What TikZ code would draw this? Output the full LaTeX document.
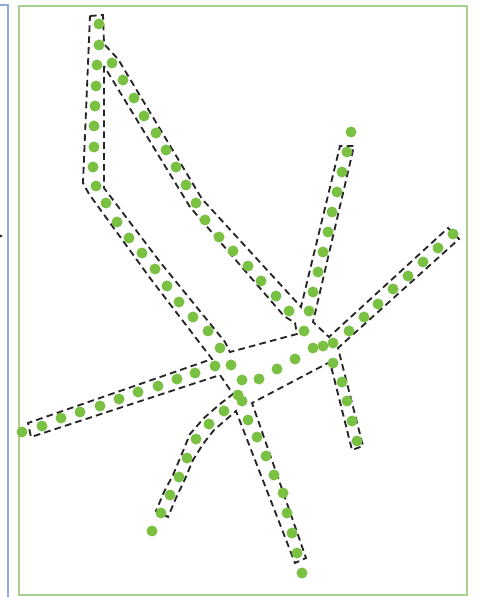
\documentclass[tikz,border=0pt]{standalone}
\usetikzlibrary{arrows.meta}
\definecolor{trackgreen}{HTML}{7AC143}
\definecolor{framegreen}{HTML}{A9D18E}
\definecolor{frameblue}{HTML}{8FAADC}

\begin{document}
\begin{tikzpicture}[x=0.02cm, y=-0.02cm,
        pt/.style={fill=trackgreen, draw=none},
        buf/.style={draw=black!85, line width=1.05pt, dash pattern=on 3.8pt off 2.4pt, line join=miter},
        frame/.style={draw=framegreen, line width=1.1pt}]
      \useasboundingbox (0,0) rectangle (479,597);
      % panel edges
      \draw[frameblue, line width=0.9pt] (0,5) -- (8,5) -- (8,600);
      \draw[frame] (19,6) rectangle (467,595);
      \draw[-{Stealth[length=4pt, width=4pt]}, black!80, line width=0.6pt] (-12,236) -- (3,236);
      % buffer outline
      \draw[buf] (90,16) -- (103,15) -- (104,44) -- (118,59) -- (202,199) -- (301,307) -- (340,146) -- (354,146)
        -- (313,322) -- (329,337) -- (448,228) -- (459,239) -- (338,348) -- (363,446) -- (352,450)
        -- (330,362) -- (252,403) -- (306,558) -- (295,563) -- (236,411) -- (214,430) -- (203,444)
        -- (193,460) -- (185,479) -- (176,498) -- (168,517) -- (156,511) -- (164,492) -- (173,475)
        -- (181,456) -- (190,434) -- (204,418) -- (220,404) -- (233,394) -- (220,375) -- (31,437)
        -- (28,423) -- (212,359) -- (150,278) -- (89,194) -- (83,183) -- cycle;
      \draw[buf] (104,66) -- (104,188) -- (160,262) -- (225,342) -- (230,352) -- (297,334) -- (295,323)
        -- (284,316) -- (190,207) -- cycle;
      % track points
      \foreach \p in {(99,24),(99,45),(97,65),(96,86),(95,106),(94,126),(94,147),(93,167),(96,186),
          (106,203),(117,222),(129,238),(142,253),(155,269),(167,286),(179,302),(193,317),(208,331),(220,348)}
        \fill[pt] \p circle[radius=5.5];
      \foreach \p in {(112,63),(123,80),(134,98),(144,116),(156,133),(166,150),(176,167),(186,185),
          (196,203),(205,220),(219,237),(233,251),(248,266),(261,281),(276,296),(289,311)}
        \fill[pt] \p circle[radius=5.5];
      \foreach \p in {(351,132),(347,152),(342,172),(337,192),(332,212),(328,232),(323,252),(318,272),
          (313,292),(309,311),(304,331)}
        \fill[pt] \p circle[radius=5.5];
      \foreach \p in {(453,234),(438,248),(423,262),(408,276),(393,289),(378,304),(364,317),(349,331),
          (333,343),(323,346),(313,348),(295,359),(277,369),(259,379),(242,380),(231,365)}
        \fill[pt] \p circle[radius=5.5];
      \foreach \p in {(333,363),(342,382),(347,401),(352,421),(357,441)}
        \fill[pt] \p circle[radius=5.5];
      \foreach \p in {(238,395),(242,401),(248,420),(257,437),(266,456),(274,475),(283,493),(287,513),
          (292,533),(297,553),(302,573)}
        \fill[pt] \p circle[radius=5.5];
      \foreach \p in {(152,531),(161,513),(170,495),(179,477),(187,458),(196,439),(209,424),(224,411)}
        \fill[pt] \p circle[radius=5.5];
      \foreach \p in {(22,432),(42,426),(61,418),(80,412),(100,406),(119,399),(138,392),(158,386),
          (177,379),(195,373),(215,366)}
        \fill[pt] \p circle[radius=5.5];
      \end{tikzpicture}
\end{document}
